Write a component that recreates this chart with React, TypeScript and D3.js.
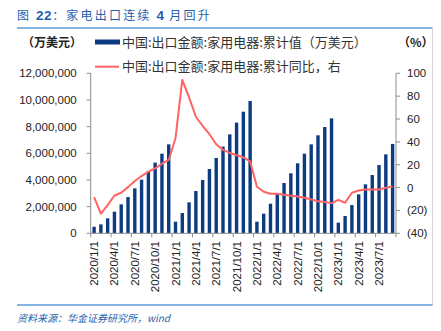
import React from "react";
import * as d3 from "d3";

const months: string[] = [
  "2020/1/1","2020/2/1","2020/3/1","2020/4/1","2020/5/1","2020/6/1","2020/7/1","2020/8/1","2020/9/1","2020/10/1","2020/11/1","2020/12/1",
  "2021/1/1","2021/2/1","2021/3/1","2021/4/1","2021/5/1","2021/6/1","2021/7/1","2021/8/1","2021/9/1","2021/10/1","2021/11/1","2021/12/1",
  "2022/1/1","2022/2/1","2022/3/1","2022/4/1","2022/5/1","2022/6/1","2022/7/1","2022/8/1","2022/9/1","2022/10/1","2022/11/1","2022/12/1",
  "2023/1/1","2023/2/1","2023/3/1","2023/4/1","2023/5/1","2023/6/1","2023/7/1","2023/8/1","2023/9/1",
];

// 累计值（万美元）
const exportValue: number[] = [
  490000, 670000, 1120000, 1620000, 2170000, 2720000, 3370000, 4020000, 4650000, 5300000, 5970000, 6670000,
  870000, 1520000, 2320000, 3170000, 4000000, 4820000, 5650000, 6500000, 7420000, 8300000, 9120000, 9920000,
  870000, 1470000, 2220000, 3000000, 3770000, 4500000, 5250000, 5970000, 6670000, 7350000, 7970000, 8620000,
  800000, 1300000, 2120000, 2920000, 3670000, 4370000, 5120000, 5920000, 6700000,
];

// 累计同比（%）
const yoy: number[] = [
  -8.3, -22.7, -15.4, -6.9, -4.5, 0.4, 5.7, 10.1, 13.9, 16.8, 20.9, 24.2,
  43.2, 94.2, 78.9, 62.0, 54.0, 46.7, 37.9, 33.0, 30.3, 28.3, 26.5, 23.0,
  0.7, -3.7, -5.4, -5.4, -6.3, -7.2, -7.8, -8.9, -10.4, -11.9, -12.7, -13.6,
  -10.7, -13.3, -4.5, -2.5, -1.6, -1.6, -1.6, -0.1, 1.0,
];

const xTickLabels: string[] = [
  "2020/1/1","2020/4/1","2020/7/1","2020/10/1","2021/1/1","2021/4/1","2021/7/1","2021/10/1",
  "2022/1/1","2022/4/1","2022/7/1","2022/10/1","2023/1/1","2023/4/1","2023/7/1",
];
const leftTicks: number[] = [0, 2000000, 4000000, 6000000, 8000000, 10000000, 12000000];
const rightTicks: number[] = [-40, -20, 0, 20, 40, 60, 80, 100];

const titleParts: string[] = ["图 ", "22", "：家电出口连续 ", "4", " 月回升"];
const legendBar = "中国:出口金额:家用电器:累计值（万美元）";
const legendLine = "中国:出口金额:家用电器:累计同比，右";
const leftUnit = "（万美元）";
const rightUnit = "（%）";
const source = "资料来源：华金证券研究所，wind";

const W = 441, H = 331;
const X0 = 90.7, X1 = 396;
const YT = 73.3, YB = 233.3;
const BAR = "#0C3B81";
const LINE = "#FF6363";
const AX = "#8c8c8c";
const BLUE = "#1F5FAD";
const NUM = "'Liberation Sans', Arial, sans-serif";
const CJK = "'Noto Sans CJK SC', sans-serif";

export default function App() {
  const x = d3.scaleBand<string>().domain(months).range([X0, X1]).paddingInner(0.5).paddingOuter(0.25);
  const step = x.step();
  const yL = d3.scaleLinear().domain([0, 12000000]).range([YB, YT]);
  const yR = d3.scaleLinear().domain([-40, 100]).range([YB, YT]);
  const fmtL = d3.format(",");
  const fmtR = (v: number) => (v < 0 ? `(${-v})` : `${v}`);
  const cx = (m: string) => (x(m) as number) + x.bandwidth() / 2;
  const line = d3
    .line<number>()
    .x((_, i) => cx(months[i]))
    .y((d) => yR(d));
  const boundaryIdx = d3.range(0, months.length + 1, 3);

  return (
    <svg width={W} height={H} style={{ position: "absolute", left: 0, top: 0, background: "#fff" }}>
      {/* title */}
      <text x={17} y={20} fontFamily={CJK} fontSize={12} letterSpacing={2.2} fill={BLUE}>
        {titleParts.map((p, i) =>
          i === 1 || i === 3 ? (
            <tspan key={i} fontFamily={NUM} fontSize={13.5} fontWeight="bold" letterSpacing={0.5}>{p}</tspan>
          ) : (
            <tspan key={i}>{p}</tspan>
          )
        )}
      </text>
      <line x1={17} x2={432.5} y1={28} y2={28} stroke="#5B9BD5" strokeWidth={1.5} />
      <line x1={432.5} x2={432.5} y1={28} y2={305} stroke="#d4d4d4" strokeWidth={1} />
      <line x1={17} x2={432.5} y1={305} y2={305} stroke="#5B9BD5" strokeWidth={1.5} />

      {/* units */}
      <text x={22} y={46.5} fontFamily={CJK} fontSize={12} fontWeight="bold" fill="#222">{leftUnit}</text>
      <text x={398} y={46.5} fontFamily={CJK} fontSize={12} fontWeight="bold" fill="#222">{rightUnit}</text>

      {/* legend */}
      <rect x={95} y={39.5} width={25} height={5} fill={BAR} />
      <text x={122} y={46.5} fontFamily={CJK} fontSize={13} fill="#333">{legendBar}</text>
      <line x1={95} x2={119} y1={66.7} y2={66.7} stroke={LINE} strokeWidth={2} />
      <text x={122} y={71} fontFamily={CJK} fontSize={13} fill="#333">{legendLine}</text>

      {/* bars */}
      {months.map((m, i) => (
        <rect key={m} x={x(m)} y={yL(exportValue[i])} width={x.bandwidth()} height={YB - yL(exportValue[i])} fill={BAR} />
      ))}

      {/* line */}
      <path d={line(yoy) || ""} fill="none" stroke={LINE} strokeWidth={2} strokeLinejoin="round" />

      {/* left axis */}
      <line x1={X0} x2={X0} y1={YT} y2={YB} stroke={AX} />
      {leftTicks.map((t) => (
        <g key={t}>
          <line x1={X0 - 4} x2={X0} y1={yL(t)} y2={yL(t)} stroke={AX} />
          <text x={X0 - 14} y={yL(t)} dy="0.35em" textAnchor="end" fontFamily={NUM} fontSize={11.5} fill="#222">
            {fmtL(t)}
          </text>
        </g>
      ))}

      {/* right axis */}
      <line x1={X1} x2={X1} y1={YT} y2={YB} stroke={AX} />
      {rightTicks.map((t) => (
        <g key={t}>
          <line x1={X1} x2={X1 + 4} y1={yR(t)} y2={yR(t)} stroke={AX} />
          <text x={X1 + 11} y={yR(t)} dy="0.35em" fontFamily={NUM} fontSize={11.5} fill="#222">
            {fmtR(t)}
          </text>
        </g>
      ))}

      {/* bottom axis */}
      <line x1={X0} x2={X1} y1={YB} y2={YB} stroke={AX} />
      {boundaryIdx.map((i) => (
        <line key={i} x1={X0 + step * i} x2={X0 + step * i} y1={YB} y2={YB + 4} stroke={AX} />
      ))}
      {xTickLabels.map((lab) => (
        <text
          key={lab}
          transform={`translate(${cx(lab)},${241}) rotate(-90)`}
          dy="0.35em"
          textAnchor="end"
          fontFamily={NUM}
          fontSize={11.5}
          fill="#222"
        >
          {lab}
        </text>
      ))}

      {/* source */}
      <text x={17} y={322} fontFamily={CJK} fontSize={10} fontStyle="italic" fill={BLUE}>
        {source}
      </text>
    </svg>
  );
}
